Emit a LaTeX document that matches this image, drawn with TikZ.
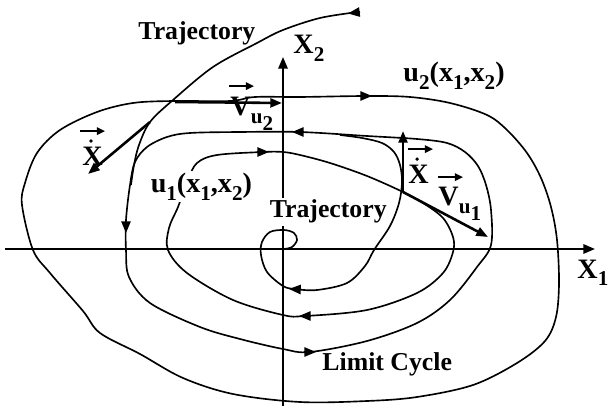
\documentclass[tikz,border=0pt]{standalone}
\usepackage{fontspec}
\setmainfont{Liberation Serif}
\usetikzlibrary{arrows.meta}

\tikzset{
    curve/.style = {line width=0.7pt},
    axis/.style = {line width=0.9pt, -{Triangle[length=5pt,width=4pt]}},
    vector/.style = {line width=1.1pt, -{Triangle[length=5pt,width=3.8pt]}},
    flow/.style = {line width=0.7pt, -{Triangle[length=5pt,width=4pt]}},
    hat/.style = {line width=0.8pt, -{Triangle[length=3.5pt,width=3.2pt]}},
    word/.style = {font=\bfseries\fontsize{11}{13}\selectfont, inner sep=0pt},
    sym/.style = {font=\bfseries\fontsize{12}{14}\selectfont, inner sep=0pt},
}
\newcommand{\sbs}[1]{\raisebox{-3pt}{\fontsize{9}{9}\selectfont #1}}

\begin{document}
\begin{tikzpicture}[x=0.015cm, y=-0.015cm]
    \useasboundingbox (0,0) rectangle (611,410);

    % Axes
    \coordinate (O) at (283,249);
    \draw[axis] (5,249) -- (595,249) coordinate (X1);
    \draw[axis] (283,406) -- (283,57) coordinate (X2);

    % Outer curve u2
    \draw[curve] plot[smooth cycle, tension=0.55] coordinates {
        (22,205) (25,183) (37,153) (60,130) (97,112) (133,103) (173,101)
        (230,101) (255,97) (300,97) (367,96) (410,97) (450,103) (487,115)
        (507,130) (527,153) (541,178) (551,207) (557,240) (559,283) (556,317)
        (545,341) (517,363) (473,385) (417,397) (367,401) (300,402) (233,394)
        (183,378) (140,354) (100,333) (83,311) (50,273) (33,250)};

    % Limit cycle
    \draw[curve] plot[smooth cycle, tension=0.55] coordinates {
        (126,220) (126,250) (129,277) (150,303) (200,327) (240,339) (283,349)
        (310,352) (367,341) (417,323) (450,300) (477,267) (491,245) (491,210)
        (486,185) (478,166) (465,152) (447,143) (417,139) (367,136) (300,132)
        (240,132) (190,133) (167,137) (147,147) (135,162) (130,185)};

    % Inner curve u1
    \draw[curve] plot[smooth cycle, tension=0.55] coordinates {
        (283,152) (300,155) (330,163) (367,176) (403,192) (423,203) (443,218)
        (453,237) (453,252) (443,273) (417,293) (367,310) (305,316) (283,315)
        (233,300) (187,273) (168,250) (169,228) (178,207) (188,180) (197,163)
        (217,155) (263,152)};

    % Trajectory from the origin
    \draw[curve] plot[smooth, tension=0.55] coordinates {
        (284,249) (292,247) (297,240) (294,233) (284,230) (270,232) (262,242)
        (261,255) (267,272) (283,286) (295,289) (317,290) (347,283) (365,266)
        (374,250) (390,226) (399,203) (402,182) (400,165) (394,152) (382,143)
        (362,138) (340,135)};

    % Trajectory from outside
    \draw[curve] plot[smooth, tension=0.55] coordinates {
        (131,185) (134,165) (139,145) (150,122) (173,100) (213,67) (257,43)
        (283,30) (320,18) (358,12)};

    % Flow directions
    \draw[flow] (360,12) -- (348,13.5);
    \draw[flow] (360,96) -- (372,96);
    \draw[flow] (304,132) -- (292,132);
    \draw[flow] (257,152) -- (269,152);
    \draw[flow] (126,222) -- (126,233);
    \draw[flow] (301,289.5) -- (289,289);
    \draw[flow] (311,316) -- (299,316);
    \draw[flow] (304,352) -- (316,352);

    % Vectors
    \coordinate (PL) at (150,122);
    \coordinate (QL) at (88,174);
    \coordinate (PU) at (175,102);
    \coordinate (QU) at (282,103);
    \coordinate (PR) at (403,192);
    \coordinate (QR) at (403,131);
    \coordinate (QV) at (488,237);
    \draw[vector] (PL) -- (QL);
    \draw[vector] (PU) -- (QU);
    \draw[vector] (PR) -- (QR);
    \draw[vector] (PR) -- (QV);

    % Labels
    \node[word, anchor=base west] (traj1) at (138,40) {Trajectory};
    \node[word, anchor=base west, fill=white, inner sep=1pt] (traj2) at (267,218) {Trajectory};
    \node[word, anchor=base west] (limit) at (322,370) {Limit Cycle};
    \node[sym, anchor=base west] (labX2) at (293,54) {X\sbs{2}};
    \node[sym, anchor=base west] (labX1) at (577,278) {X\sbs{1}};
    \node[sym, anchor=base west] (labu2) at (403,82) {u\sbs{2}(x\sbs{1},x\sbs{2})};
    \node[sym, anchor=base west, fill=white, inner sep=1pt] (labu1) at (148,193) {u\sbs{1}(x\sbs{1},x\sbs{2})};

    % Vector labels with dots and arrows on top
    \node[sym, anchor=base west] (labXL) at (82,166) {X};
    \fill ([shift={(9,-6)}]labXL.north west) circle (0.8pt);
    \draw[hat] ([shift={(-2,-16)}]labXL.north west) -- ++(25,0);

    \node[sym, anchor=base west] (labXR) at (408,184) {X};
    \fill ([shift={(9,-6)}]labXR.north west) circle (0.8pt);
    \draw[hat] ([shift={(0,-16)}]labXR.north west) -- ++(25,0);

    \node[sym, anchor=base west] (labVu2) at (230,116) {V\sbs{u\sbs{2}}};
    \draw[hat] ([shift={(-1,-11)}]labVu2.north west) -- ++(25,0);

    \node[sym, anchor=base west] (labVu1) at (438,206) {V\sbs{u\sbs{1}}};
    \draw[hat] ([shift={(0,-10)}]labVu1.north west) -- ++(25,0);
\end{tikzpicture}
\end{document}
